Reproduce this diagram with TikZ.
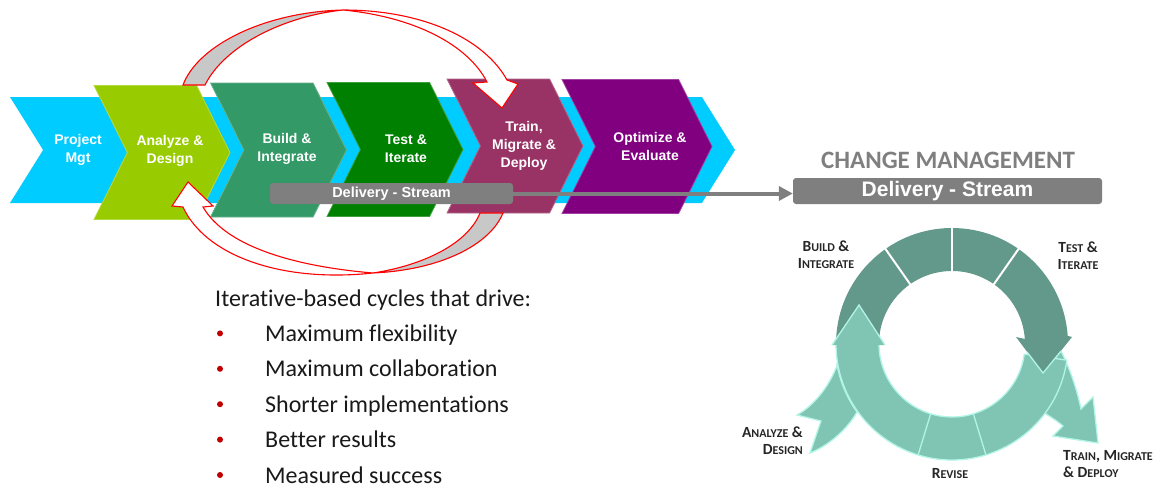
\documentclass[tikz,border=0pt]{standalone}
\usepackage{fontspec}
\setmainfont{Carlito}[Ligatures={NoCommon,NoRequired,NoContextual}]
\newfontfamily\arialfont{Liberation Sans}
\usetikzlibrary{shapes.symbols,calc,arrows.meta}

\definecolor{cyanbg}{HTML}{00CCFF}
\definecolor{anbg}{HTML}{99CC00}
\definecolor{bibg}{HTML}{339966}
\definecolor{tibg}{HTML}{008000}
\definecolor{tmbg}{HTML}{993366}
\definecolor{oebg}{HTML}{800080}
\definecolor{streamgray}{HTML}{7F7F7F}
\definecolor{ribbongray}{HTML}{C8C8C8}
\definecolor{darkteal}{HTML}{62998A}
\definecolor{lightteal}{HTML}{80C4B4}
\definecolor{tealedge}{HTML}{B2F5E6}
\definecolor{labelgray}{HTML}{262626}
\definecolor{bulletred}{HTML}{C00000}

\newcommand\smallcap[2]{{\fontsize{15.5}{17}\selectfont #1}{\fontsize{12}{17}\selectfont #2}}

\tikzset{
  stage/.style={signal, signal to=east, signal from=west, signal pointer angle=127,
    minimum width=136, minimum height=134, inner sep=0, outer sep=0,
    fill=#1, draw=#1!75!white, line width=0.8},
  stagetext/.style={align=center, text=white, inner sep=0,
    font=\arialfont\bfseries\fontsize{14}{18}\selectfont},
  streambar/.style={fill=streamgray, rounded corners=3, text=white, inner sep=0},
  ribbonfront/.style={draw=red, line width=1.1, fill=white},
  ribbonback/.style={draw=red, line width=1.1, fill=ribbongray},
  lightline/.style={draw=tealedge, line width=1.3},
  cyclelabel/.style={text=labelgray, inner sep=0, font=\bfseries\fontsize{15.5}{17}\selectfont},
  listitem/.style={anchor=base west, inner sep=0, text=black!90,
    font=\fontsize{24}{28}\selectfont},
  bulletdot/.style={circle, fill=bulletred, minimum size=6, inner sep=0}
}

\begin{document}
\begin{tikzpicture}[x=1pt,y=1pt]
  \useasboundingbox (0,0) rectangle (1155,-487);

  % chevron row
  \node[stage=cyanbg, signal pointer angle=116, minimum width=725, minimum height=106, draw=none] (band) at (372.5,-150) {};
  \node[stage=anbg] (ad) at (162,-152.5) {};
  \node[stage=bibg] (bi) at (278.5,-150) {};
  \node[stage=tibg] (ti) at (395,-149.5) {};
  \node[stage=tmbg] (tm) at (515,-146) {};
  \node[stage=oebg, minimum width=150] (oe) at (637,-146.5) {};

  \node[stagetext] (pmt) at (78,-150) {Project\\Mgt};
  \node[stagetext] (adt) at (170,-151) {Analyze \&\\Design};
  \node[stagetext] (bit) at (287,-149) {Build \&\\Integrate};
  \node[stagetext] (tit) at (406,-149) {Test \&\\Iterate};
  \node[stagetext] (tmt) at (524,-146) {Train,\\Migrate \&\\Deploy};
  \node[stagetext] (oet) at (650,-146) {Optimize \&\\Evaluate};

  % loop-back ribbons
  \filldraw[ribbonback] (183,-85) .. controls (198,-45) and (265,-12) .. (343,-10)
    .. controls (285,-16) and (225,-45) .. (205,-85) -- cycle;
  \filldraw[ribbonfront] (343,-10) .. controls (425,-10) and (485,-40) .. (507,-80)
    -- (518,-84) -- (502,-108) -- (473,-83) -- (487,-82)
    .. controls (468,-45) and (415,-17) .. (343,-10) -- cycle;
  \filldraw[ribbonback] (503,-213) .. controls (490,-245) and (440,-270) .. (373,-273)
    .. controls (425,-265) and (468,-243) .. (480,-213) -- cycle;
  \filldraw[ribbonfront] (373,-273) .. controls (280,-283) and (205,-255) .. (183,-207)
    -- (172,-206) -- (188,-182) -- (213,-206) -- (203,-207)
    .. controls (225,-245) and (290,-266) .. (373,-273) -- cycle;

  % delivery stream
  \node[streambar, minimum width=243, minimum height=21,
    font=\arialfont\bfseries\fontsize{14.5}{16}\selectfont] (dsl) at (391.5,-193.5) {Delivery - Stream};
  \node[streambar, minimum width=309, minimum height=26,
    font=\arialfont\bfseries\fontsize{21}{24}\selectfont] (dsr) at (947.5,-191) {Delivery - Stream};
  \node[text=streamgray, inner sep=0, font=\bfseries\fontsize{25}{28}\selectfont] (cm) at (948,-160) {CHANGE MANAGEMENT};
  \draw[streamgray, line width=4, -{Triangle[length=14pt,width=14pt]}] (dsl.east) -- (dsl.east -| dsr.west);

  % text list
  \node[listitem] (intro) at (215,-306) {Iterative-based cycles that drive:};
  \foreach \txt [count=\i] in {Maximum flexibility, Maximum collaboration, Shorter implementations, Better results, Measured success} {
    \node[listitem] (item\i) at (265,{-306-35.4*\i}) {\txt};
    \node[bulletdot] (dot\i) at (220,{-298-35.4*\i}) {};
  }

  % change management cycle
  \coordinate (cc) at (952,-344);
  \filldraw[fill=lightteal, lightline] (1043,-412) -- (1043,-373) -- (1061,-351)
    .. controls (1068,-365) and (1076,-385) .. (1081,-409) -- (1093,-397) -- (1098,-443)
    -- (1053,-436) -- (1063,-426) .. controls (1056,-420) and (1049,-416) .. (1043,-412) -- cycle;
  \filldraw[fill=lightteal, lightline] (838,-363) .. controls (830,-385) and (815,-405) .. (797,-415)
    -- (821,-421) -- (810,-453) .. controls (830,-445) and (848,-428) .. (857,-412)
    arc[start angle=215.6, end angle=189.5, radius=116] -- cycle;
  \filldraw[fill=lightteal, lightline] (cc) ++(180:116) arc[start angle=180, end angle=352, radius=116]
    -- ($(cc)+(352:73)$) arc[start angle=352, end angle=180, radius=73] -- cycle;
  \fill[darkteal] (cc) ++(178:116) arc[start angle=178, end angle=4, radius=116]
    -- (1072,-337) -- (1043,-373) -- (1016,-337)
    -- ($(cc)+(4:73)$) arc[start angle=4, end angle=178, radius=73] -- cycle;
  \draw[lightline] (1027,-352) -- (1043,-373) -- (1061,-351);
  \fill[lightteal] (832,-345) -- (859,-305) -- (885,-345) -- cycle;
  \draw[lightline] (832,-345) -- (859,-305) -- (885,-345);
  \foreach \a in {55,90,125}
    \draw[white, line width=2] ($(cc)+(\a:72)$) -- ($(cc)+(\a:117)$);
  \foreach \a in {253,287}
    \draw[lightline] ($(cc)+(\a:73)$) -- ($(cc)+(\a:116)$);

  \node[cyclelabel, align=center] (bil) at (826,-255) {\smallcap{B}{UILD} \&\\\smallcap{I}{NTEGRATE}};
  \node[cyclelabel, align=center] (til) at (1078,-256) {\smallcap{T}{EST} \&\\\smallcap{I}{TERATE}};
  \node[cyclelabel, align=right, anchor=east] (adl) at (803,-441) {\smallcap{A}{NALYZE} \&\\\smallcap{D}{ESIGN}};
  \node[cyclelabel] (rvl) at (950,-474) {\smallcap{R}{EVISE}};
  \node[cyclelabel, align=left, anchor=west] (tml) at (1063,-464) {\smallcap{T}{RAIN}, \smallcap{M}{IGRATE}\\\& \smallcap{D}{EPLOY}};
\end{tikzpicture}
\end{document}
